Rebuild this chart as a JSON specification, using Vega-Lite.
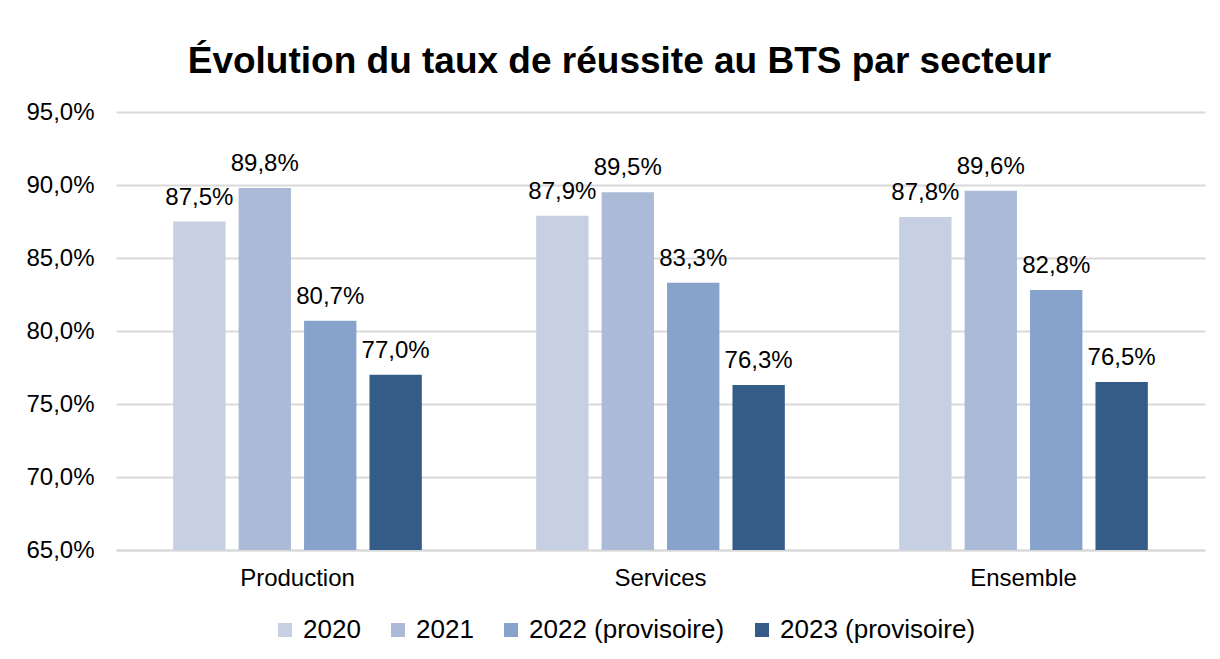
{
  "$schema": "https://vega.github.io/schema/vega-lite/v6.json",
  "width": 1089,
  "height": 438,
  "autosize": "none",
  "padding": {"left": 116, "top": 112, "right": 15, "bottom": 109},
  "background": "white",
  "config": {
    "locale": {"number": {"decimal": ",", "thousands": " ", "grouping": [3], "currency": ["", " €"]}},
    "font": "Liberation Sans",
    "view": {"stroke": null}
  },
  "title": {
    "text": "Évolution du taux de réussite au BTS par secteur",
    "font": "Liberation Sans",
    "fontSize": 37,
    "fontWeight": "bold",
    "color": "#000000",
    "anchor": "middle",
    "frame": "bounds",
    "baseline": "alphabetic",
    "offset": -10,
    "dx": 4
  },
  "data": {
    "values": [
      {"secteur": "Production", "annee": "2020", "taux": 0.875},
      {"secteur": "Production", "annee": "2021", "taux": 0.898},
      {"secteur": "Production", "annee": "2022 (provisoire)", "taux": 0.807},
      {"secteur": "Production", "annee": "2023 (provisoire)", "taux": 0.770},
      {"secteur": "Services", "annee": "2020", "taux": 0.879},
      {"secteur": "Services", "annee": "2021", "taux": 0.895},
      {"secteur": "Services", "annee": "2022 (provisoire)", "taux": 0.833},
      {"secteur": "Services", "annee": "2023 (provisoire)", "taux": 0.763},
      {"secteur": "Ensemble", "annee": "2020", "taux": 0.878},
      {"secteur": "Ensemble", "annee": "2021", "taux": 0.896},
      {"secteur": "Ensemble", "annee": "2022 (provisoire)", "taux": 0.828},
      {"secteur": "Ensemble", "annee": "2023 (provisoire)", "taux": 0.765}
    ]
  },
  "encoding": {
    "x": {
      "field": "secteur",
      "type": "nominal",
      "sort": ["Production", "Services", "Ensemble"],
      "scale": {"paddingInner": 0.315, "paddingOuter": 0.1575},
      "axis": {
        "title": null,
        "labelAngle": 0,
        "labelFontSize": 24,
        "labelColor": "#000000",
        "labelPadding": 16,
        "domainColor": "#d9d9d9",
        "domainWidth": 2,
        "ticks": false
      }
    },
    "xOffset": {
      "field": "annee",
      "type": "nominal",
      "sort": ["2020", "2021", "2022 (provisoire)", "2023 (provisoire)"],
      "scale": {"paddingInner": 0.2, "paddingOuter": 0}
    },
    "y": {
      "field": "taux",
      "type": "quantitative",
      "scale": {"domain": [0.65, 0.95], "nice": false, "zero": false},
      "axis": {
        "title": null,
        "format": ".1%",
        "values": [0.65, 0.70, 0.75, 0.80, 0.85, 0.90, 0.95],
        "grid": true,
        "gridColor": "#d9d9d9",
        "gridWidth": 2,
        "domain": false,
        "ticks": false,
        "labelFontSize": 24,
        "labelColor": "#000000",
        "labelPadding": 22
      }
    }
  },
  "layer": [
    {
      "mark": {"type": "bar", "clip": true},
      "encoding": {
        "color": {
          "field": "annee",
          "type": "nominal",
          "sort": ["2020", "2021", "2022 (provisoire)", "2023 (provisoire)"],
          "scale": {
            "domain": ["2020", "2021", "2022 (provisoire)", "2023 (provisoire)"],
            "range": ["#c6d0e2", "#abbad7", "#87a2cb", "#355b87"]
          },
          "legend": {
            "title": null,
            "orient": "none",
            "direction": "horizontal",
            "columns": 4,
            "legendX": 156,
            "legendY": 505,
            "padding": 0,
            "symbolType": "square",
            "symbolSize": 196,
            "symbolStrokeWidth": 0,
            "labelFontSize": 26,
            "labelLimit": 400,
            "labelColor": "#000000",
            "labelOffset": 5,
            "columnPadding": 24
          }
        }
      }
    },
    {
      "mark": {"type": "text", "baseline": "alphabetic", "dy": -17, "fontSize": 24, "color": "#000000"},
      "encoding": {
        "text": {"field": "taux", "type": "quantitative", "format": ".1%"}
      }
    }
  ]
}
